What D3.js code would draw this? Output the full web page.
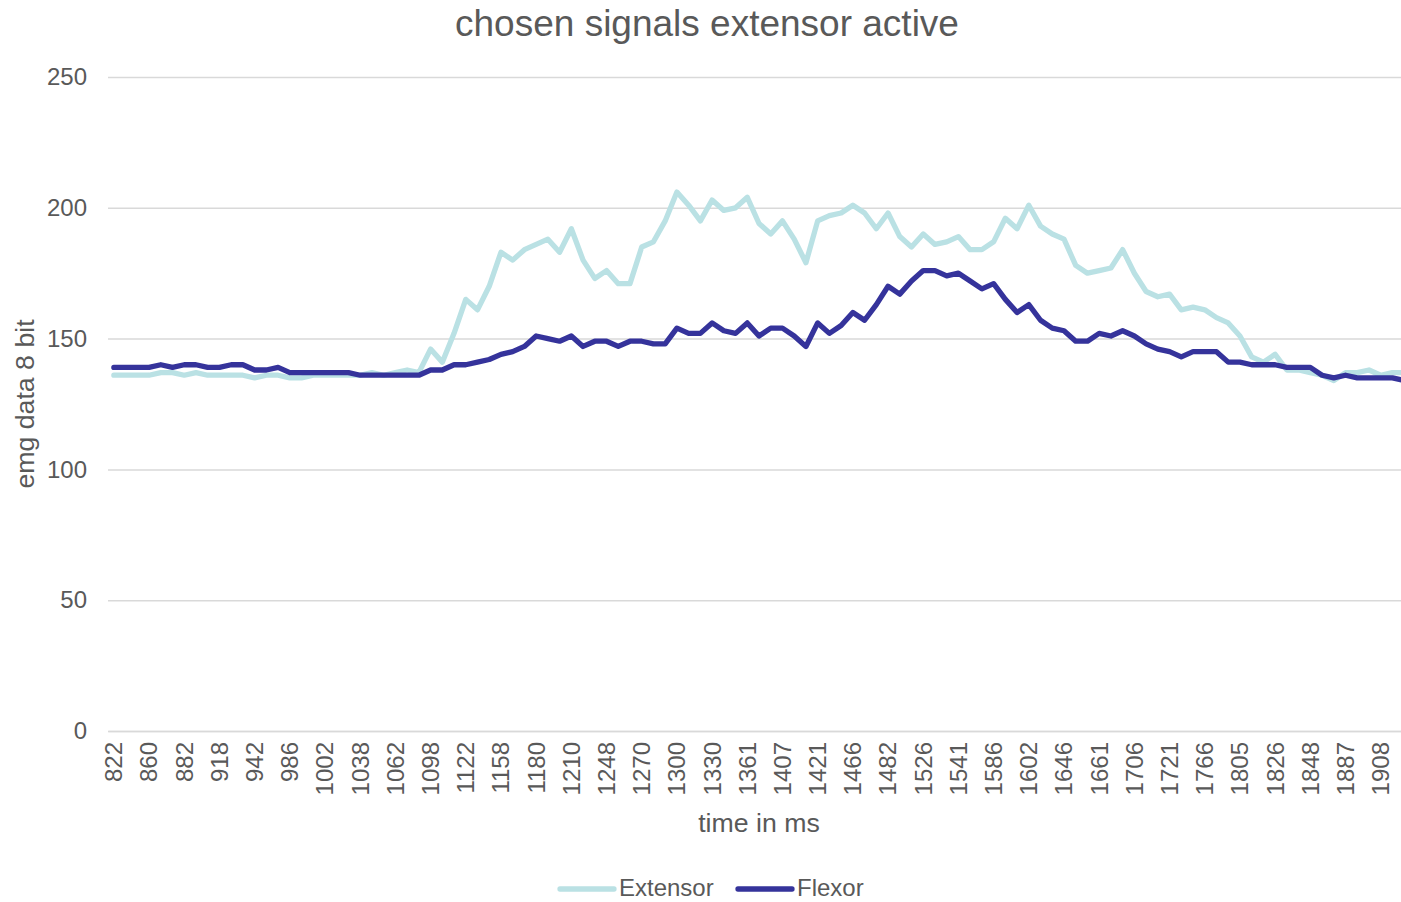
<!DOCTYPE html>
<html>
<head>
<meta charset="utf-8">
<script src="https://cdn.jsdelivr.net/npm/d3@7/dist/d3.min.js"></script>
<style>
  html, body { margin: 0; padding: 0; background: #fff; }
  svg { display: block; font-family: "Liberation Sans", Arial, sans-serif; }
</style>
</head>
<body>
<svg id="chart" width="1401" height="902"></svg>
<script>
// ---- data ----
const titleText = "chosen signals extensor active";
const xTitle = "time in ms";
const yTitle = "emg data 8 bit";
const seriesNames = ["Extensor", "Flexor"];
// visible category labels (every 3rd sample)
const tickLabels = [822, 860, 882, 918, 942, 986, 1002, 1038, 1062, 1098, 1122, 1158, 1180, 1210,
  1248, 1270, 1300, 1330, 1361, 1407, 1421, 1466, 1482, 1526, 1541, 1586, 1602, 1646, 1661,
  1706, 1721, 1766, 1805, 1826, 1848, 1887, 1908];
const yTicks = [0, 50, 100, 150, 200, 250];
const extensor = [136, 136, 136, 136, 137, 137, 136, 137, 136, 136, 136, 136, 135, 136, 136, 135,
  135, 136, 136, 136, 136, 136, 137, 136, 137, 138, 137, 146, 141, 152, 165, 161, 170, 183, 180,
  184, 186, 188, 183, 192, 180, 173, 176, 171, 171, 185, 187, 195, 206, 201, 195, 203, 199, 200,
  204, 194, 190, 195, 188, 179, 195, 197, 198, 201, 198, 192, 198, 189, 185, 190, 186, 187, 189,
  184, 184, 187, 196, 192, 201, 193, 190, 188, 178, 175, 176, 177, 184, 175, 168, 166, 167, 161,
  162, 161, 158, 156, 151, 143, 141, 144, 138, 138, 137, 136, 134, 137, 137, 138, 136, 137, 137];
const flexor = [139, 139, 139, 139, 140, 139, 140, 140, 139, 139, 140, 140, 138, 138, 139, 137,
  137, 137, 137, 137, 137, 136, 136, 136, 136, 136, 136, 138, 138, 140, 140, 141, 142, 144, 145,
  147, 151, 150, 149, 151, 147, 149, 149, 147, 149, 149, 148, 148, 154, 152, 152, 156, 153, 152,
  156, 151, 154, 154, 151, 147, 156, 152, 155, 160, 157, 163, 170, 167, 172, 176, 176, 174, 175,
  172, 169, 171, 165, 160, 163, 157, 154, 153, 149, 149, 152, 151, 153, 151, 148, 146, 145, 143,
  145, 145, 145, 141, 141, 140, 140, 140, 139, 139, 139, 136, 135, 136, 135, 135, 135, 135, 134];
const colors = ["#BAE1E4", "#35339B"];

// ---- layout ----
const svg = d3.select("#chart");
const mLeft = 108, mTop = 77, mBottom = 731;
const nCat = extensor.length;
const step = 11.73;
const mRight = mLeft + nCat * step;

const x = d3.scaleBand().domain(d3.range(nCat)).range([mLeft, mRight]).padding(0);
const cx = i => x(i) + x.bandwidth() / 2;
const y = d3.scaleLinear().domain([0, 250]).range([mBottom, mTop]);

const textColor = "#595959";
const gridColor = "#D9D9D9";
const ff = "'Liberation Sans', Arial, sans-serif";

// gridlines + y labels
const yAxis = d3.axisLeft(y).tickValues(yTicks).tickSize(-(mRight - mLeft)).tickPadding(21);
const gy = svg.append("g").attr("transform", `translate(${mLeft},0)`).call(yAxis);
gy.select(".domain").remove();
gy.selectAll(".tick line").attr("stroke", gridColor).attr("stroke-width", 1.5);
gy.selectAll(".tick text").attr("fill", textColor).style("font-size", "24px").style("font-family", ff);

// x axis
const xTickIdx = d3.range(0, nCat, 3);
const xAxis = d3.axisBottom(x).tickValues(xTickIdx).tickSize(0)
  .tickFormat(i => tickLabels[i / 3]);
const gx = svg.append("g").attr("transform", `translate(0,${mBottom})`).call(xAxis);
gx.select(".domain").attr("stroke", gridColor).attr("stroke-width", 1.5);
gx.selectAll(".tick text")
  .attr("fill", textColor)
  .style("font-size", "24px")
  .style("font-family", ff)
  .attr("transform", "rotate(-90)")
  .attr("text-anchor", "end")
  .attr("x", -11)
  .attr("y", 0)
  .attr("dy", "0.35em");

// lines
const line = d3.line().x((d, i) => cx(i)).y(d => y(d));
[extensor, flexor].forEach((s, k) => {
  svg.append("path").datum(s)
    .attr("fill", "none")
    .attr("stroke", colors[k])
    .attr("stroke-width", 5.3)
    .attr("stroke-linejoin", "round")
    .attr("stroke-linecap", "round")
    .attr("d", line);
});

// titles
svg.append("text").attr("x", 707).attr("y", 36).attr("text-anchor", "middle")
  .attr("fill", textColor).style("font-size", "37px").text(titleText);
svg.append("text").attr("x", (mLeft + mRight) / 2).attr("y", 832).attr("text-anchor", "middle")
  .attr("fill", textColor).style("font-size", "26.7px").text(xTitle);
svg.append("text").attr("transform", `translate(34,${(mTop + mBottom) / 2}) rotate(-90)`)
  .attr("text-anchor", "middle").attr("fill", textColor).style("font-size", "26.7px").text(yTitle);

// legend
const legendItems = [
  { name: seriesNames[0], color: colors[0], x0: 560 },
  { name: seriesNames[1], color: colors[1], x0: 738 }
];
const lg = svg.append("g");
legendItems.forEach(it => {
  lg.append("line").attr("x1", it.x0).attr("x2", it.x0 + 54).attr("y1", 889).attr("y2", 889)
    .attr("stroke", it.color).attr("stroke-width", 5.3).attr("stroke-linecap", "round");
  lg.append("text").attr("x", it.x0 + 59).attr("y", 896).attr("fill", textColor)
    .style("font-size", "24px").text(it.name);
});
</script>
</body>
</html>
